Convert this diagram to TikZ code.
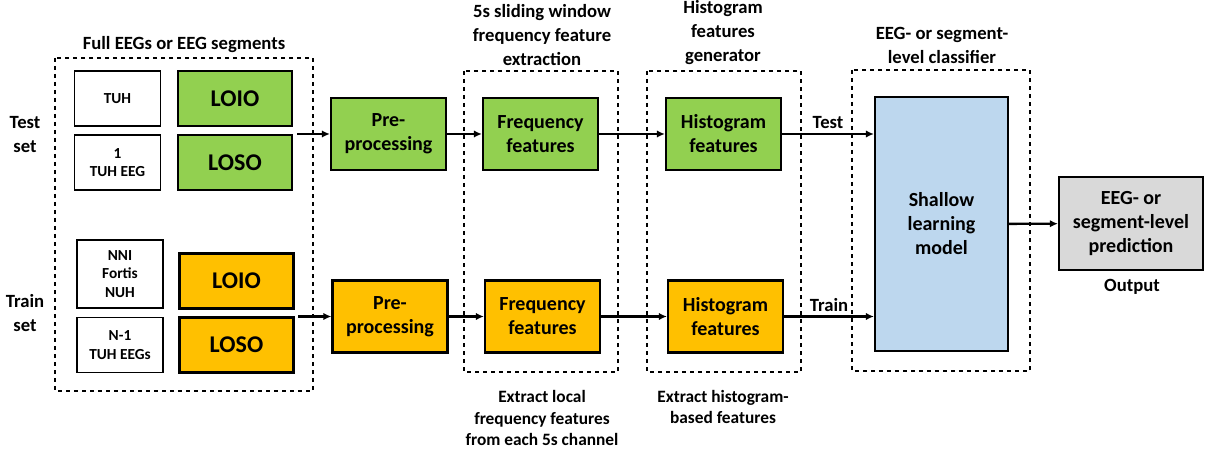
\documentclass[tikz,border=0pt]{standalone}
\usepackage{fontspec}
\setmainfont{Carlito}
\usetikzlibrary{positioning,arrows.meta}

\definecolor{testgreen}{HTML}{92D050}
\definecolor{trainorange}{HTML}{FFC000}
\definecolor{modelblue}{HTML}{BDD7EE}
\definecolor{outgray}{HTML}{D9D9D9}

\begin{document}
\begin{tikzpicture}[%
    x=0.75pt, y=-0.75pt,
    >={Latex[length=6pt,width=5.5pt]},
    every node/.style={align=center, inner sep=1pt},
    srcbox/.style={draw, line width=1.3pt, minimum width=64.5pt, minimum height=41.25pt,
                   font=\bfseries\fontsize{11.5}{14}\selectfont},
    splitbox/.style={draw, line width=1.6pt, minimum width=85.5pt, minimum height=41.25pt,
                     font=\bfseries\fontsize{18}{20}\selectfont},
    stage/.style={draw, line width=1.6pt, minimum width=86.25pt, minimum height=54pt,
                  font=\bfseries\fontsize{15}{18}\selectfont},
    group/.style={draw, dashed, line width=1.3pt},
    title/.style={font=\bfseries\fontsize{14}{18}\selectfont},
    note/.style={font=\bfseries\fontsize{13}{16}\selectfont},
    flow/.style={->, line width=1.8pt}
    ]
    \useasboundingbox (0,0) rectangle (1205,452);

    % dashed groups
    \draw[group] (55,58) rectangle (313,391);
    \draw[group] (464,71) rectangle (618,372);
    \draw[group] (647,71) rectangle (801,372);
    \draw[group] (852,70) rectangle (1030,371);

    % data splits
    \node[srcbox] (tuh) at (117.5,98.5) {TUH};
    \node[srcbox] (tuheeg) at (117.5,162.5) {1\\TUH EEG};
    \node[splitbox, fill=testgreen] (loio1) at (235,98.5) {LOIO};
    \node[splitbox, fill=testgreen] (loso1) at (235,162.5) {LOSO};
    \node[srcbox, minimum height=51pt] (nni) at (120,274) {NNI\\Fortis\\NUH};
    \node[srcbox] (tuheegs) at (120,345) {N-1\\TUH EEGs};
    \node[splitbox, fill=trainorange] (loio2) at (236.5,281) {LOIO};
    \node[splitbox, fill=trainorange] (loso2) at (236.5,345) {LOSO};

    % pipeline
    \node[stage, fill=testgreen] (pre1) at (388.5,134) {Pre-\\processing};
    \node[stage, fill=testgreen] (freq1) at (540.5,134) {Frequency\\features};
    \node[stage, fill=testgreen] (hist1) at (723.5,134) {Histogram\\features};
    \node[stage, fill=trainorange] (pre2) at (390,316.5) {Pre-\\processing};
    \node[stage, fill=trainorange] (freq2) at (542.5,316.5) {Frequency\\features};
    \node[stage, fill=trainorange] (hist2) at (725.5,316.5) {Histogram\\features};
    \node[stage, fill=modelblue, minimum width=99.75pt, minimum height=190.5pt] (shallow)
        at (941.5,224) {Shallow\\learning\\model};
    \node[stage, fill=outgray, minimum width=108pt, minimum height=69.75pt] (out)
        at (1131,223.5) {EEG- or\\segment-level\\prediction};

    % titles and notes
    \node[title] (fulltitle) at (184,45) {Full EEGs or EEG segments};
    \node[title] (testset) at (25,135) {Test\\set};
    \node[title] (trainset) at (25,313) {Train\\set};
    \node[title] (freqtitle) at (542,35) {5s sliding window\\frequency feature\\extraction};
    \node[title] (histtitle) at (723,33) {Histogram\\features\\generator};
    \node[title] (clftitle) at (942,45) {EEG- or segment-\\level classifier};
    \node[title] (outtitle) at (1132,287) {Output};
    \node[note] (freqnote) at (542,418) {Extract local\\frequency features\\from each 5s channel};
    \node[note] (histnote) at (723,407) {Extract histogram-\\based features};

    % connectors
    \coordinate (in1) at (297,134);
    \coordinate (in2) at (298,316.5);
    \draw[flow] (in1) -- (pre1);
    \draw[flow] (in2) -- (pre2);
    \draw[flow] (pre1) -- (freq1);
    \draw[flow] (pre2) -- (freq2);
    \draw[flow] (freq1) -- (hist1);
    \draw[flow] (freq2) -- (hist2);
    \draw[flow] (hist1) -- (hist1 -| shallow.west) node[title, midway, above=2pt] {Test};
    \draw[flow] (hist2) -- (hist2 -| shallow.west) node[title, midway, above=2pt] {Train};
    \draw[flow] (shallow) -- (out);

\end{tikzpicture}
\end{document}
